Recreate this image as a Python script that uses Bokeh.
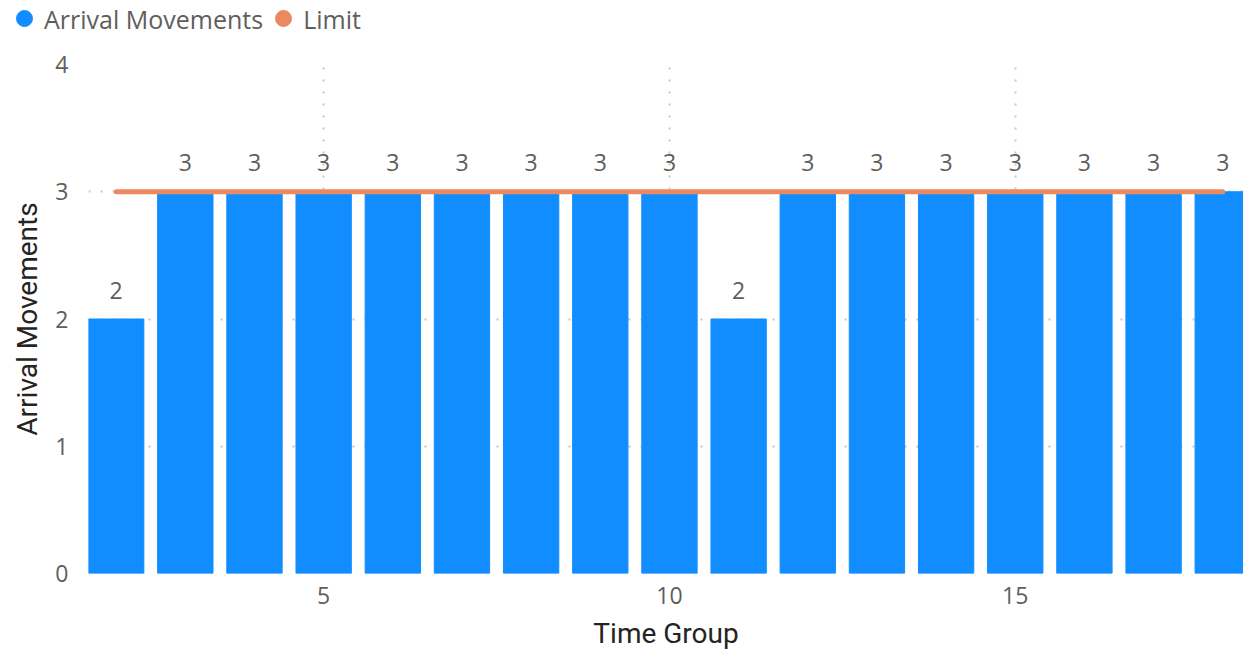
from bokeh.plotting import figure
from bokeh.layouts import column
from bokeh.models import Range1d, FixedTicker, Legend, LegendItem, ColumnDataSource
from bokeh.core.properties import value
from bokeh.embed import file_html
from bokeh.resources import INLINE

time_group = [2, 3, 4, 5, 6, 7, 8, 9, 10, 11, 12, 13, 14, 15, 16, 17, 18]
arrivals = [2, 3, 3, 3, 3, 3, 3, 3, 3, 2, 3, 3, 3, 3, 3, 3, 3]
limit = [3] * len(time_group)
x_ticks = [5, 10, 15]
y_ticks = [0, 1, 2, 3, 4]
series_names = ["Arrival Movements", "Limit"]

BAR = "#118DFF"
LIM = "#EB8A62"
GRAY = "#605E5C"
DARK = "#252423"

src = ColumnDataSource(dict(x=time_group, y=arrivals, lim=limit,
                            lbl=[str(v) for v in arrivals]))

# ---- legend strip (swatch proxies sit outside the strip's visible range) ----
lg = figure(width=1243, height=36, output_backend="svg", toolbar_location=None,
            x_range=Range1d(0, 1), y_range=Range1d(0, 1),
            min_border=0, x_axis_type=None, y_axis_type=None)
lg.frame_align = False
lg.outline_line_color = None
lg.xgrid.visible = False
lg.ygrid.visible = False
r1 = lg.scatter([-5], [-5], marker="circle", size=16, color=BAR)
r2 = lg.scatter([-5], [-5], marker="circle", size=16, color=LIM)
legend = Legend(items=[LegendItem(label=series_names[0], renderers=[r1]),
                       LegendItem(label=series_names[1], renderers=[r2])],
                orientation="horizontal", location="left",
                border_line_color=None, background_fill_alpha=0,
                padding=0, margin=4, spacing=0, glyph_width=40, glyph_height=45,
                label_standoff=0, label_text_font="Open Sans",
                label_text_font_size="25px", label_text_color=GRAY)
lg.add_layout(legend, "center")

# ---- main chart ----
p = figure(width=1243, height=616, output_backend="svg", toolbar_location=None,
           x_range=Range1d(1.6, 18.3), y_range=Range1d(0, 4),
           min_border_left=88, min_border_right=0, min_border_top=28,
           min_border_bottom=79)
p.frame_align = False
p.outline_line_color = None
p.background_fill_color = "white"
p.border_fill_color = "white"

p.vbar(x="x", top="y", width=0.8, color=BAR, source=src)
p.line(x="x", y="lim", line_width=5, color=LIM, line_cap="round", source=src)
p.text(x="x", y="y", text="lbl", source=src, text_align="center",
       text_baseline="middle", y_offset=-29, text_font=value("Open Sans"),
       text_font_size="23px", text_color=GRAY)

# grids
p.ygrid.ticker = FixedTicker(ticks=y_ticks)
p.xgrid.ticker = FixedTicker(ticks=x_ticks)
for g in (p.xgrid, p.ygrid):
    g.grid_line_color = "#C8C6C4"
    g.grid_line_dash = "2 10"
    g.grid_line_width = 2
p.xgrid.level = "underlay"
p.ygrid.level = "underlay"

# axes
p.xaxis.ticker = FixedTicker(ticks=x_ticks)
p.yaxis.ticker = FixedTicker(ticks=y_ticks)
for ax in (p.xaxis, p.yaxis):
    ax.axis_line_color = None
    ax.major_tick_line_color = None
    ax.minor_tick_line_color = None
    ax.major_tick_out = 0
    ax.major_tick_in = 0
    ax.major_label_text_font = "Open Sans"
    ax.major_label_text_font_size = "23px"
    ax.major_label_text_color = GRAY
    ax.axis_label_text_font = "Roboto"
    ax.axis_label_text_font_size = "28px"
    ax.axis_label_text_font_style = "normal"
    ax.axis_label_text_color = DARK
p.xaxis.axis_label = "Time Group"
p.yaxis.axis_label = "Arrival Movements"
p.xaxis.major_label_standoff = 13
p.yaxis.major_label_standoff = 20
p.xaxis.axis_label_standoff = 10
p.yaxis.axis_label_standoff = 8

layout = column(lg, p, spacing=0)
open("out.html", "w").write(file_html(layout, INLINE))
